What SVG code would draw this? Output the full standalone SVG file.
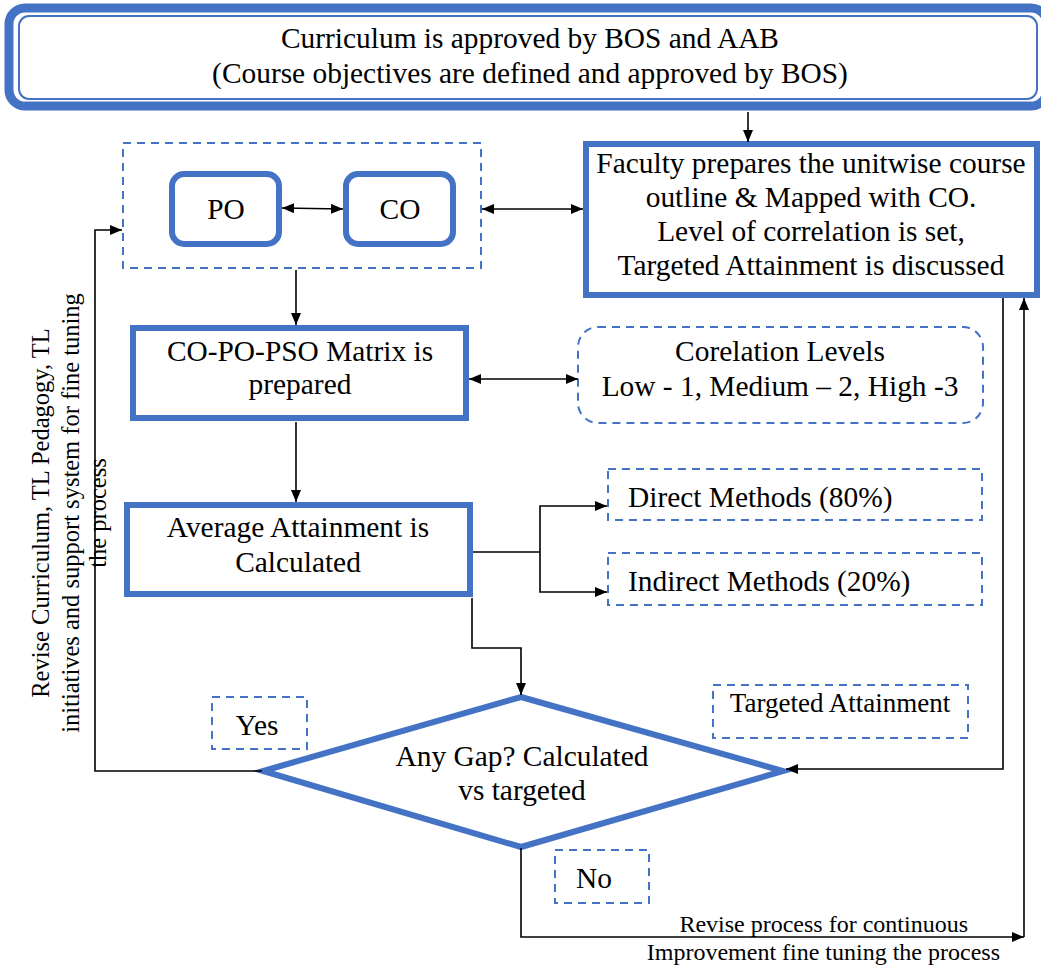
<svg xmlns="http://www.w3.org/2000/svg" width="1041" height="966" viewBox="0 0 1041 966" font-family="'Liberation Serif', 'Times New Roman', 'DejaVu Serif', serif">
<style>
text{font-family:'Liberation Serif','Times New Roman','DejaVu Serif',serif;fill:#000}
.t24{font-size:29.4px}
.t22{font-size:27px}
.t20{font-size:24px}
.rot{font-size:24.5px}
.solid{fill:#fff;stroke:#4472C4;stroke-width:6}
.dash{fill:#fff;stroke:#4472C4;stroke-width:2;stroke-dasharray:8 6}
.c{fill:none;stroke:#000;stroke-width:1.6}
</style>
<defs>
<marker id="ah" viewBox="0 0 12 10" refX="12" refY="5" markerWidth="12" markerHeight="10" markerUnits="userSpaceOnUse" orient="auto-start-reverse">
<path d="M0,0 L12,5 L0,10 Z" fill="#000"/>
</marker>
</defs>
<rect width="1041" height="966" fill="#fff"/>

<g id="top">
<rect x="9" y="8" width="1038" height="98" rx="16" fill="#fff" stroke="#4472C4" stroke-width="9"/>
<rect x="19" y="16" width="1018" height="83" rx="10" fill="none" stroke="#4472C4" stroke-width="2"/>
<text class="t24" x="530" y="48" text-anchor="middle">Curriculum is approved by BOS and AAB</text>
<text class="t24" x="530" y="83" text-anchor="middle">(Course objectives are defined and approved by BOS)</text>
</g>

<g id="group">
<rect class="dash" x="123" y="143" width="358" height="125"/>
</g>
<g id="po">
<rect class="solid" x="172" y="174" width="107" height="70" rx="12"/>
<text class="t24" x="226" y="219" text-anchor="middle">PO</text>
</g>
<g id="co">
<rect class="solid" x="346" y="174" width="107" height="70" rx="12"/>
<text class="t24" x="400" y="219" text-anchor="middle">CO</text>
</g>

<g id="faculty">
<rect class="solid" x="586" y="144" width="451" height="151"/>
<text class="t24" x="811" y="173" text-anchor="middle">Faculty prepares the unitwise course</text>
<text class="t24" x="811" y="207" text-anchor="middle">outline &amp; Mapped with CO.</text>
<text class="t24" x="811" y="241" text-anchor="middle">Level of correlation is set,</text>
<text class="t24" x="811" y="275" text-anchor="middle">Targeted Attainment is discussed</text>
</g>

<g id="matrix">
<rect class="solid" x="133" y="328" width="333" height="90"/>
<text class="t24" x="300" y="361" text-anchor="middle">CO-PO-PSO Matrix is</text>
<text class="t24" x="300" y="394" text-anchor="middle">prepared</text>
</g>

<g id="levels">
<rect class="dash" x="578" y="327" width="405" height="96" rx="20"/>
<text class="t24" x="780" y="361" text-anchor="middle">Corelation Levels</text>
<text class="t24" x="780" y="396" text-anchor="middle">Low - 1, Medium – 2, High -3</text>
</g>

<g id="average">
<rect class="solid" x="127" y="505" width="343" height="89"/>
<text class="t24" x="298" y="537" text-anchor="middle">Average Attainment is</text>
<text class="t24" x="298" y="572" text-anchor="middle">Calculated</text>
</g>

<g id="direct">
<rect class="dash" x="608" y="469" width="374" height="51"/>
<text class="t24" x="628" y="507">Direct Methods (80%)</text>
</g>
<g id="indirect">
<rect class="dash" x="608" y="553" width="374" height="52"/>
<text class="t24" x="628" y="591">Indirect Methods (20%)</text>
</g>

<g id="target">
<rect class="dash" x="713" y="685" width="255" height="53"/>
<text class="t22" x="840" y="712" text-anchor="middle">Targeted Attainment</text>
</g>

<g id="gap">
<polygon points="521,697 783,771 521,847 263,771" fill="#fff" stroke="#4472C4" stroke-width="6" stroke-linejoin="miter"/>
<text class="t24" x="522" y="766" text-anchor="middle">Any Gap? Calculated</text>
<text class="t24" x="522" y="800" text-anchor="middle">vs targeted</text>
</g>

<g id="yes">
<rect class="dash" x="212" y="697" width="95" height="52"/>
<text class="t24" x="257" y="735" text-anchor="middle">Yes</text>
</g>
<g id="no">
<rect class="dash" x="555" y="850" width="94" height="53"/>
<text class="t24" x="594" y="888" text-anchor="middle">No</text>
</g>

<g id="revise-label">
<g transform="translate(0,513) rotate(-90)">
<text class="rot" x="0" y="49" text-anchor="middle">Revise Curriculum, TL Pedagogy, TL</text>
<text class="rot" x="0" y="79" text-anchor="middle">initiatives and support system for fine tuning</text>
<text class="rot" x="0" y="106" text-anchor="middle">the process</text>
</g>
</g>

<g id="loop-label">
<text class="t20" x="968" y="932" text-anchor="end">Revise process for continuous</text>
<text class="t20" x="1000" y="960" text-anchor="end">Improvement fine tuning the process</text>
</g>

<g id="connectors">
<line class="c" x1="748" y1="112" x2="748" y2="142" marker-end="url(#ah)"/>
<line class="c" x1="282" y1="208" x2="343" y2="209" marker-start="url(#ah)" marker-end="url(#ah)"/>
<line class="c" x1="482" y1="209" x2="583" y2="209" marker-start="url(#ah)" marker-end="url(#ah)"/>
<line class="c" x1="296" y1="270" x2="296" y2="325" marker-end="url(#ah)"/>
<line class="c" x1="469" y1="379" x2="578" y2="379" marker-start="url(#ah)" marker-end="url(#ah)"/>
<line class="c" x1="296" y1="422" x2="296" y2="502" marker-end="url(#ah)"/>
<polyline class="c" points="473,552 540,552"/>
<polyline class="c" points="540,552 540,506 607,506" marker-end="url(#ah)"/>
<polyline class="c" points="540,552 540,592 607,592" marker-end="url(#ah)"/>
<polyline class="c" points="472,598 472,648 521,648 521,695" marker-end="url(#ah)"/>
<polyline class="c" points="262,771 95,771 95,230 122,230" marker-end="url(#ah)"/>
<polyline class="c" points="1003,298 1003,769 786,769" marker-end="url(#ah)"/>
<polyline class="c" points="521,848 521,937 1024,937" marker-end="url(#ah)"/>
<line class="c" x1="1024" y1="937" x2="1024" y2="298" marker-end="url(#ah)"/>
</g>
</svg>
